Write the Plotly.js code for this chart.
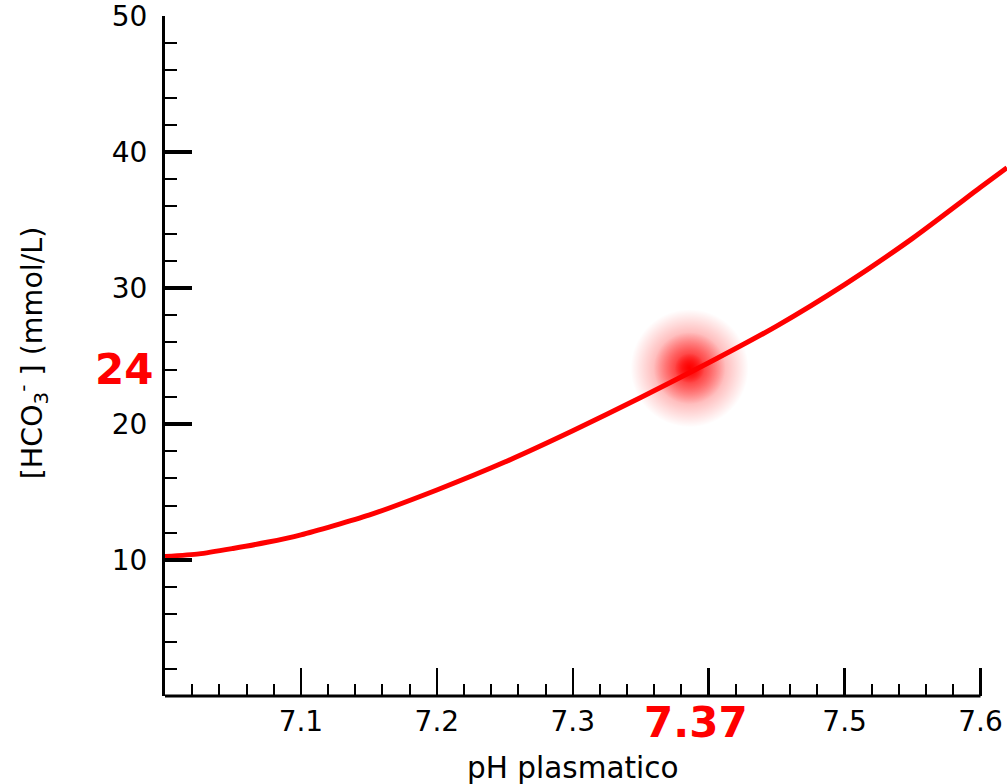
<!DOCTYPE html>
<html>
<head>
<meta charset="utf-8">
<script src="https://cdn.plot.ly/plotly-3.0.1.min.js"></script>
<style>html,body{margin:0;padding:0;background:#fff;}#chart{width:1007px;height:784px;}</style>
</head>
<body>
<div id="chart"></div>
<script>
// Curve: plasma pH vs bicarbonate
const phValues   = [7.00, 7.025, 7.05, 7.075, 7.10, 7.15, 7.20, 7.25, 7.30, 7.35, 7.40, 7.45, 7.50, 7.55, 7.60, 7.6195];
const hco3Values = [10.25, 10.45, 10.85, 11.3, 11.85, 13.3, 15.15, 17.2, 19.5, 21.95, 24.5, 27.2, 30.25, 33.65, 37.4, 38.85];

// Highlighted normal point
const pointPH = [7.386];
const pointHCO3 = [24.1];
const pointPHLabel = "7.37";
const pointHCO3Label = "24";

// Axis ticks
const xTickVals = [7.0, 7.1, 7.2, 7.3, 7.4, 7.5, 7.6];
const xTickText = ["", "7.1", "7.2", "7.3", "", "7.5", "7.6"];
const yTickVals = [0, 10, 20, 30, 40, 50];
const yTickText = ["", "10", "20", "30", "40", "50"];

const xTitle = "pH plasmatico";
const yTitle = "[HCO<sub>3</sub><sup>-</sup> ] (mmol/L)";

const FONT = "DejaVu Sans, sans-serif";

function glow(size, alpha) {
  return { x: pointPH, y: pointHCO3, type: "scatter", mode: "markers", hoverinfo: "skip",
    marker: { size: size, color: "rgba(255,0,0,0)", line: { width: 0 },
              gradient: { type: "radial", color: "rgba(255,0,0," + alpha + ")" } } };
}

const traces = [
  glow(118, 0.65),
  glow(72, 0.75),
  glow(30, 1.0),
  { x: phValues, y: hco3Values, type: "scatter", mode: "lines",
    line: { color: "#ff0000", width: 5, shape: "spline", smoothing: 0.6 } }
];

const layout = {
  width: 1007, height: 784,
  margin: { l: 165, r: 0, t: 16, b: 88 },
  paper_bgcolor: "#fff", plot_bgcolor: "#fff",
  showlegend: false,
  font: { family: FONT, size: 28, color: "#000" },
  xaxis: {
    range: [7.0, 7.6195], showgrid: false, zeroline: false, showline: false,
    tickmode: "array", tickvals: xTickVals, ticktext: xTickText,
    ticks: "inside", ticklen: 28, tickwidth: 2.5, tickcolor: "#000",
    ticklabelstandoff: 6, ticklabeloverflow: "allow",
    tickfont: { family: FONT, size: 28, color: "#000" },
    minor: { ticks: "inside", dtick: 0.02, tick0: 7.0, ticklen: 12, tickwidth: 2, tickcolor: "#000", showgrid: false }
  },
  yaxis: {
    range: [0, 50], showgrid: false, zeroline: false,
    showline: true, linewidth: 3, linecolor: "#000",
    tickmode: "array", tickvals: yTickVals, ticktext: yTickText,
    ticks: "inside", ticklen: 27, tickwidth: 4, tickcolor: "#000",
    ticklabelstandoff: 9, ticklabeloverflow: "allow",
    tickfont: { family: FONT, size: 28, color: "#000" },
    minor: { ticks: "inside", dtick: 2, tick0: 0, ticklen: 12, tickwidth: 2, tickcolor: "#000", showgrid: false }
  },
  shapes: [
    { type: "line", xref: "x", yref: "paper", x0: 7.0, x1: 7.6, y0: 0, y1: 0,
      line: { color: "#000", width: 3 } }
  ],
  annotations: [
    { text: pointHCO3Label, xref: "paper", yref: "y", x: 0, y: 24,
      xanchor: "right", yanchor: "middle", xshift: -10, showarrow: false,
      font: { family: FONT, size: 42, color: "#ff0000", weight: "bold" } },
    { text: pointPHLabel, xref: "x", yref: "paper", x: 7.391, y: 0,
      xanchor: "center", yanchor: "middle", yshift: -26, showarrow: false,
      font: { family: FONT, size: 42, color: "#ff0000", weight: "bold" } },
    { text: xTitle, xref: "x", yref: "paper", x: 7.3, y: 0,
      xanchor: "center", yanchor: "middle", yshift: -72, showarrow: false,
      font: { family: FONT, size: 29.5, color: "#000" } },
    { text: yTitle, xref: "paper", yref: "y", x: 0, y: 25.2, textangle: -90,
      xanchor: "center", yanchor: "middle", xshift: -133, showarrow: false,
      font: { family: FONT, size: 28.5, color: "#000" } }
  ]
};

Plotly.newPlot("chart", traces, layout, { staticPlot: true, displayModeBar: false });
</script>
</body>
</html>
